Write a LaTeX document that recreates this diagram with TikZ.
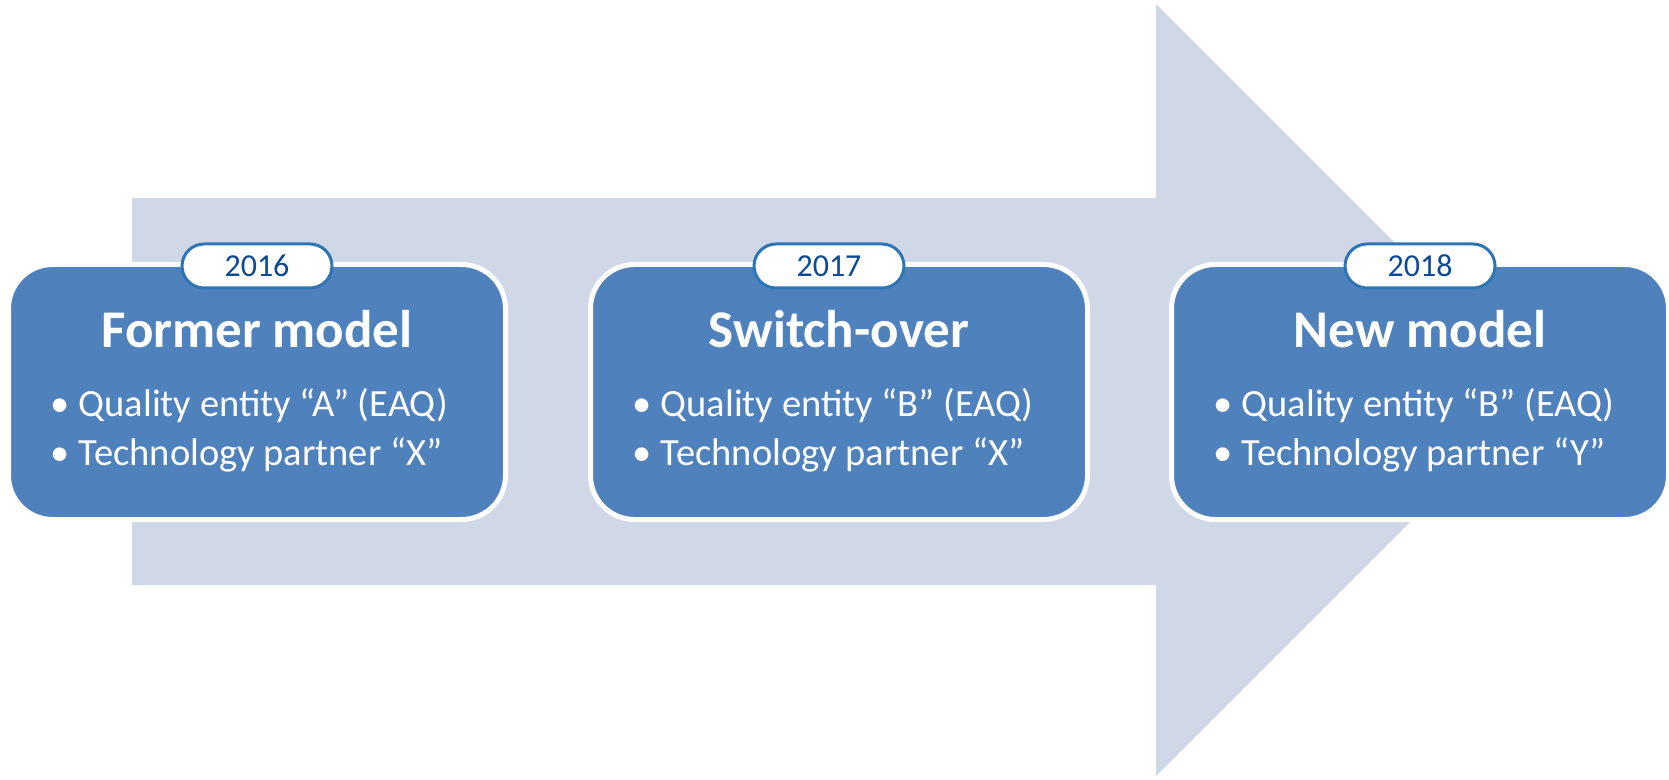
\documentclass[tikz,border=0pt]{standalone}
\usepackage{fontspec}
\setmainfont{Carlito}
\usepackage{tikz}
\usepackage{xcolor}
\usetikzlibrary{positioning}
\definecolor{arrowgray}{HTML}{D0D8E8}
\definecolor{stageblue}{HTML}{4F81BD}
\definecolor{tagline}{HTML}{2E75B6}
\definecolor{tagtext}{HTML}{0B4A95}
\tikzset{
    stage-box/.style = {draw=white, fill=stageblue, line width=2.5pt, rectangle, rounded corners=22pt, minimum width=248.5pt, minimum height=127.5pt, inner sep=0pt},
    year-tag/.style = {draw=tagline, fill=white, line width=1.5pt, rectangle, rounded corners=11pt, minimum width=75pt, minimum height=22pt, inner sep=0pt, text=tagtext, font=\fontsize{16}{19}\selectfont},
    stage-title/.style = {text=white, inner sep=0pt, anchor=base, font=\fontsize{26.5}{30}\selectfont\bfseries},
    stage-item/.style = {text=white, inner sep=0pt, anchor=base west, font=\fontsize{19.25}{23}\selectfont},
}

\begin{document}
\begin{tikzpicture}[x=0.5pt, y=-0.5pt]
\useasboundingbox (0,0) rectangle (1669,780);
% big arrow behind the stages
\fill[arrowgray] (132,198) -- (1156,198) -- (1156,4) -- (1542,390) -- (1156,776) -- (1156,585) -- (132,585) -- cycle;

% 2016
\node[stage-box] (former) at (257,392) {};
\node[stage-title] (former-title) at ([yshift=-43pt]former.north) {Former model};
\node[stage-item] (former-a) at ([xshift=22.25pt, yshift=-77pt]former.north west) {•~Quality entity “A” (EAQ)};
\node[stage-item] (former-b) at ([xshift=22.25pt, yshift=-101.5pt]former.north west) {•~Technology partner “X”};
\node[year-tag] (former-year) at ([yshift=-2pt]former.north) {2016};

% 2017
\node[stage-box] (switch) at (839,392) {};
\node[stage-title] (switch-title) at ([yshift=-43pt]switch.north) {Switch-over};
\node[stage-item] (switch-a) at ([xshift=22.25pt, yshift=-77pt]switch.north west) {•~Quality entity “B” (EAQ)};
\node[stage-item] (switch-b) at ([xshift=22.25pt, yshift=-101.5pt]switch.north west) {•~Technology partner “X”};
\node[year-tag] (switch-year) at ([xshift=-5pt, yshift=-2pt]switch.north) {2017};

% 2018
\node[stage-box] (new) at (1420,392) {};
\node[stage-title] (new-title) at ([yshift=-43pt]new.north) {New model};
\node[stage-item] (new-a) at ([xshift=22.25pt, yshift=-77pt]new.north west) {•~Quality entity “B” (EAQ)};
\node[stage-item] (new-b) at ([xshift=22.25pt, yshift=-101.5pt]new.north west) {•~Technology partner “Y”};
\node[year-tag] (new-year) at ([yshift=-2pt]new.north) {2018};
\end{tikzpicture}
\end{document}
